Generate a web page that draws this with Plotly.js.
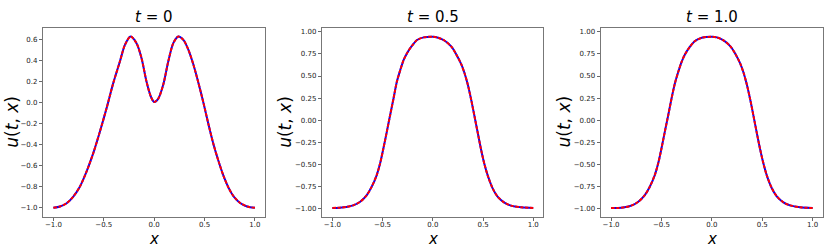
<!DOCTYPE html>
<html>
<head>
<meta charset="utf-8">
<script src="https://cdn.plot.ly/plotly-3.0.1.min.js"></script>
<style>
  html, body { margin: 0; padding: 0; background: #fff; }
  #chart { width: 831px; height: 247px; }
</style>
</head>
<body>
<div id="chart"></div>
<script>
// -------------------- DATA --------------------
// t = 0
const xT0 = [-1.000, -0.934, -0.868, -0.802, -0.736, -0.670, -0.604, -0.538, -0.472, -0.406,
             -0.340, -0.290, -0.234, -0.175, -0.125, -0.076, -0.033, 0.000,
             0.040, 0.090, 0.140, 0.190, 0.240, 0.290, 0.340, 0.390, 0.440, 0.490,
             0.540, 0.590, 0.640, 0.690, 0.740, 0.790, 0.857, 0.923, 1.000];
const uT0 = [-0.999, -0.986, -0.955, -0.892, -0.796, -0.653, -0.480, -0.275, -0.053, 0.184,
             0.389, 0.547, 0.626, 0.563, 0.421, 0.199, 0.057, 0.005,
             0.035, 0.168, 0.389, 0.563, 0.626, 0.595, 0.500, 0.358, 0.184, -0.006,
             -0.211, -0.401, -0.560, -0.701, -0.812, -0.892, -0.955, -0.986, -0.999];

// t = 0.5
const xT05 = [-1.000, -0.926, -0.860, -0.793, -0.726, -0.659, -0.609, -0.559, -0.525, -0.492,
              -0.458, -0.425, -0.391, -0.358, -0.324, -0.291, -0.258, -0.207, -0.157, -0.090, 0.000,
              0.053, 0.119, 0.185, 0.234, 0.284, 0.317, 0.350, 0.383, 0.416, 0.449,
              0.482, 0.515, 0.548, 0.597, 0.647, 0.713, 0.779, 0.878, 1.000];
const uT05 = [-0.989, -0.985, -0.977, -0.959, -0.921, -0.846, -0.751, -0.620, -0.488, -0.318,
              -0.130, 0.058, 0.247, 0.435, 0.567, 0.680, 0.755, 0.842, 0.906, 0.936, 0.944,
              0.932, 0.898, 0.831, 0.744, 0.631, 0.529, 0.397, 0.228, 0.040, -0.149,
              -0.337, -0.499, -0.627, -0.770, -0.864, -0.928, -0.962, -0.981, -0.989];

// t = 1.0
const xT1 = [-1.000, -0.933, -0.867, -0.800, -0.733, -0.667, -0.617, -0.567, -0.533, -0.500,
             -0.467, -0.433, -0.400, -0.367, -0.333, -0.300, -0.267, -0.217, -0.167, -0.100, 0.000,
             0.050, 0.116, 0.182, 0.231, 0.281, 0.314, 0.347, 0.380, 0.413, 0.446,
             0.479, 0.512, 0.545, 0.594, 0.644, 0.710, 0.776, 0.875, 1.000];
const uT1 = [-0.989, -0.989, -0.981, -0.962, -0.921, -0.846, -0.751, -0.620, -0.488, -0.318,
             -0.130, 0.058, 0.247, 0.416, 0.548, 0.661, 0.744, 0.831, 0.895, 0.932, 0.944,
             0.936, 0.902, 0.838, 0.755, 0.642, 0.540, 0.405, 0.239, 0.051, -0.141,
             -0.326, -0.488, -0.620, -0.763, -0.857, -0.925, -0.959, -0.981, -0.989];

const panelTitles = ["0", "0.5", "1.0"];

const xTicks = [-1.0, -0.5, 0.0, 0.5, 1.0];
const xTickText = ["\u22121.0", "\u22120.5", "0.0", "0.5", "1.0"];
const yTicks1 = [-1.0, -0.8, -0.6, -0.4, -0.2, 0.0, 0.2, 0.4, 0.6];
const yTickText1 = ["\u22121.0", "\u22120.8", "\u22120.6", "\u22120.4", "\u22120.2", "0.0", "0.2", "0.4", "0.6"];
const yTicks2 = [-1.0, -0.75, -0.5, -0.25, 0.0, 0.25, 0.5, 0.75, 1.0];
const yTickText2 = ["\u22121.00", "\u22120.75", "\u22120.50", "\u22120.25", "0.00", "0.25", "0.50", "0.75", "1.00"];

// -------------------- LAYOUT HELPERS --------------------
const W = 831, H = 247;
const FONT = "DejaVu Sans, sans-serif";
const frames = [[43.3, 265.0], [322.3, 543.3], [601.0, 822.7]];   // px, left/right of each axes box
const yDom = [1 - 216.7 / H, 1 - 28.0 / H];
const yLabelX = [11.7, 284.8, 563.5];

function xAxis(i) {
    return {
        domain: [frames[i][0] / W, frames[i][1] / W],
        range: [-1.1, 1.1],
        tickvals: xTicks, ticktext: xTickText,
        ticks: "outside", ticklen: 3, tickwidth: 0.8, tickcolor: "#444",
        ticklabelstandoff: -2,
        tickfont: { family: FONT, size: 7, color: "#222" },
        showline: true, mirror: true, linecolor: "#777", linewidth: 1,
        showgrid: false, zeroline: false,
        anchor: i === 0 ? "y" : "y" + (i + 1)
    };
}

function yAxis(i, range, vals, text) {
    return {
        domain: yDom,
        range: range,
        tickvals: vals, ticktext: text,
        ticks: "outside", ticklen: 3.5, tickwidth: 0.8, tickcolor: "#444",
        tickfont: { family: FONT, size: 7, color: "#222" },
        showline: true, mirror: true, linecolor: "#777", linewidth: 1,
        showgrid: false, zeroline: false,
        anchor: i === 0 ? "x" : "x" + (i + 1)
    };
}

// -------------------- TRACES --------------------
const series = [[xT0, uT0], [xT05, uT05], [xT1, uT1]];
const traces = [];
series.forEach((s, i) => {
    const xa = i === 0 ? "x" : "x" + (i + 1);
    const ya = i === 0 ? "y" : "y" + (i + 1);
    // exact solution
    traces.push({
        x: s[0], y: s[1], xaxis: xa, yaxis: ya, mode: "lines",
        line: { color: "#0000ff", width: 2, shape: "spline", smoothing: 0.8 },
        showlegend: false, hoverinfo: "skip"
    });
    // prediction
    traces.push({
        x: s[0], y: s[1], xaxis: xa, yaxis: ya, mode: "lines",
        line: { color: "#ff0000", width: 2, dash: "3.5px,1.5px", shape: "spline", smoothing: 0.8 },
        showlegend: false, hoverinfo: "skip"
    });
});

// -------------------- ANNOTATIONS --------------------
const annotations = [];
frames.forEach((f, i) => {
    const cx = (f[0] + f[1]) / 2 / W;
    annotations.push({
        text: "<i>t</i> = " + panelTitles[i], xref: "paper", yref: "paper",
        x: cx, y: 1 - 17 / H, xanchor: "center", yanchor: "middle", showarrow: false,
        font: { family: FONT, size: 15, color: "#000" }
    });
    annotations.push({
        text: "<i>x</i>", xref: "paper", yref: "paper",
        x: cx, y: 1 - 238.5 / H, xanchor: "center", yanchor: "middle", showarrow: false,
        font: { family: FONT, size: 15, color: "#000" }
    });
    annotations.push({
        text: "<i>u</i>(<i>t</i>, <i>x</i>)", xref: "paper", yref: "paper",
        x: yLabelX[i] / W, y: 1 - 122 / H, xanchor: "center", yanchor: "middle",
        textangle: -90, showarrow: false,
        font: { family: FONT, size: 17, color: "#000" }
    });
});

const layout = {
    width: W, height: H,
    margin: { l: 0, r: 0, t: 0, b: 0 },
    paper_bgcolor: "#fff", plot_bgcolor: "#fff",
    showlegend: false,
    xaxis: xAxis(0), xaxis2: xAxis(1), xaxis3: xAxis(2),
    yaxis: yAxis(0, [-1.083, 0.707], yTicks1, yTickText1),
    yaxis2: yAxis(1, [-1.087, 1.042], yTicks2, yTickText2),
    yaxis3: yAxis(2, [-1.087, 1.042], yTicks2, yTickText2),
    annotations: annotations
};

Plotly.newPlot("chart", traces, layout, { staticPlot: true, displayModeBar: false });
</script>
</body>
</html>
